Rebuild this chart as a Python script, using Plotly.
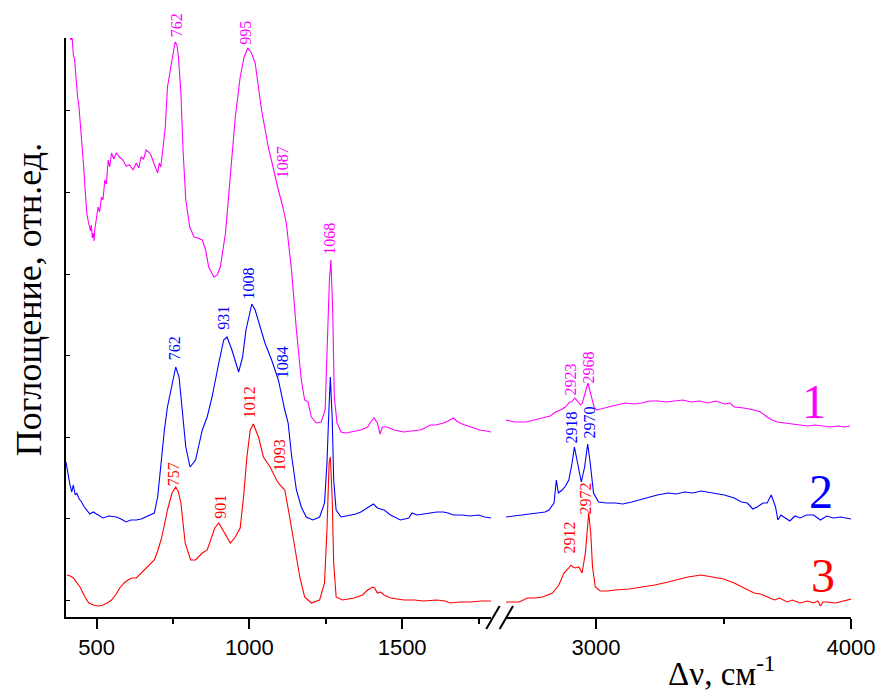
import plotly.graph_objects as go

# ---------------- data (wavenumber, cm^-1 ; absorbance, rel. units) ----------------
wn_1_left = [412, 416, 420, 424, 428, 432, 436, 438, 442, 446, 450, 455, 458, 462, 466, 468, 472, 476, 480, 483,
             486, 489, 492, 494, 498, 505, 510, 516, 521, 527, 532, 538, 543, 549, 556, 565, 575, 586, 597, 608,
             619, 630, 638, 646, 654, 662, 670, 678, 686, 695, 700, 705, 710, 716, 725, 732, 743, 750, 757, 763,
             768, 776, 783, 792, 805, 819, 832, 846, 857, 867, 876, 884, 895, 905, 922, 938, 954, 970, 983, 995,
             1007, 1019, 1040, 1062, 1080, 1095, 1108, 1121, 1138, 1154, 1170, 1176, 1181, 1192, 1203, 1219, 1235,
             1248, 1257, 1262, 1267, 1273, 1278, 1287, 1300, 1316, 1332, 1348, 1365, 1387, 1397, 1408, 1419, 1428,
             1435, 1451, 1473, 1490, 1506, 1530, 1559, 1575, 1592, 1610, 1635, 1650, 1668, 1678, 1689, 1705, 1722,
             1740, 1754, 1775, 1792]
abs_1_left = [5.85, 5.77, 5.80, 5.62, 5.58, 5.42, 5.30, 5.20, 5.12, 4.97, 4.85, 4.64, 4.50, 4.30, 4.12, 4.04, 3.97, 3.90, 3.86, 3.92,
              3.79, 3.84, 3.76, 3.87, 3.95, 4.10, 4.05, 4.20, 4.17, 4.37, 4.33, 4.57, 4.50, 4.64, 4.58, 4.64, 4.60, 4.57, 4.51, 4.52,
              4.47, 4.54, 4.49, 4.60, 4.58, 4.67, 4.65, 4.62, 4.55, 4.47, 4.44, 4.54, 4.50, 4.65, 4.90, 5.30, 5.50, 5.66, 5.75, 5.72,
              5.60, 5.24, 4.67, 4.17, 3.90, 3.80, 3.79, 3.77, 3.67, 3.50, 3.45, 3.40, 3.42, 3.50, 3.84, 4.44, 5.00, 5.40, 5.60, 5.69,
              5.64, 5.54, 5.07, 4.70, 4.45, 4.27, 4.12, 3.94, 3.47, 2.87, 2.37, 2.25, 2.17, 2.15, 2.00, 1.94, 1.95,
              2.07, 2.87, 3.37, 3.57, 3.04, 2.20, 1.94, 1.85, 1.84, 1.85, 1.86, 1.87, 1.90, 1.95, 1.99, 1.94, 1.83,
              1.90, 1.90, 1.87, 1.86, 1.85, 1.86, 1.87, 1.89, 1.92, 1.92, 1.94, 1.96, 1.99, 1.96, 1.94, 1.92, 1.90,
              1.88, 1.87, 1.86, 1.85]
wn_1_right = [2647, 2680, 2725, 2760, 2790, 2820, 2841, 2860, 2880, 2896, 2904, 2916, 2927, 2939, 2946, 2958, 2968, 2977,
              2984, 2993, 3003, 3030, 3049, 3080, 3114, 3150, 3179, 3210, 3243, 3275, 3308, 3340, 3373, 3405, 3438, 3470,
              3503, 3525, 3542, 3580, 3620, 3645, 3671, 3690, 3711, 3740, 3770, 3801, 3830, 3860, 3892, 3920, 3950, 3975, 3996]
abs_1_right = [1.97, 1.95, 1.95, 1.97, 1.99, 2.01, 2.05, 2.07, 2.10, 2.15, 2.15, 2.19, 2.16, 2.12, 2.14, 2.24, 2.34, 2.25,
               2.17, 2.09, 2.07, 2.09, 2.10, 2.12, 2.14, 2.13, 2.14, 2.16, 2.16, 2.15, 2.16, 2.17, 2.15, 2.16, 2.14, 2.16,
               2.13, 2.14, 2.10, 2.09, 2.07, 2.05, 2.00, 1.97, 1.95, 1.94, 1.93, 1.92, 1.91, 1.92, 1.91, 1.90, 1.91, 1.90, 1.91]

wn_2_left = [400, 404, 408, 413, 419, 424, 430, 435, 443, 451, 460, 468, 478, 489, 505, 521, 540, 565, 580, 597,
             612, 630, 646, 662, 676, 689, 700, 711, 722, 732, 743, 752, 759, 770, 781, 792, 806, 824, 835, 846,
             862, 878, 900, 916, 927, 943, 965, 978, 989, 997, 1008, 1019, 1035, 1051, 1073, 1095, 1116, 1127,
             1138, 1154, 1170, 1186, 1208, 1230, 1246, 1254, 1260, 1265, 1271, 1276, 1284, 1300, 1316, 1332, 1348,
             1365, 1392, 1406, 1419, 1441, 1462, 1494, 1522, 1532, 1549, 1570, 1592, 1614, 1635, 1650, 1668, 1695,
             1722, 1750, 1770, 1792]
abs_2_left = [1.55, 1.47, 1.40, 1.32, 1.25, 1.32, 1.22, 1.24, 1.18, 1.15, 1.10, 1.07, 1.03, 1.05, 1.02, 0.99, 1.01, 1.00, 0.98, 0.95,
              0.97, 0.97, 0.98, 1.00, 1.02, 1.04, 1.20, 1.54, 1.87, 2.10, 2.27, 2.42, 2.50, 2.40, 2.04, 1.70, 1.50, 1.57, 1.72, 1.87,
              2.00, 2.20, 2.54, 2.77, 2.80, 2.67, 2.45, 2.60, 2.87, 2.97, 3.13, 3.07, 2.90, 2.74, 2.57, 2.37, 2.07, 1.94,
              1.62, 1.27, 1.10, 1.00, 0.97, 1.00, 1.14, 1.54, 2.04, 2.40, 2.00, 1.37, 1.07, 1.00, 1.01, 1.02, 1.03,
              1.05, 1.10, 1.13, 1.09, 1.07, 1.02, 0.97, 0.99, 1.04, 1.02, 1.03, 1.04, 1.05, 1.05, 1.04, 1.02, 1.02,
              1.01, 1.02, 1.00, 0.99]
wn_2_right = [2647, 2680, 2712, 2745, 2776, 2800, 2815, 2835, 2844, 2852, 2867, 2880, 2893, 2906, 2915, 2926, 2942, 2955,
              2967, 2977, 2990, 3010, 3040, 3075, 3105, 3140, 3170, 3204, 3240, 3282, 3315, 3347, 3380, 3412, 3440, 3464,
              3503, 3542, 3570, 3593, 3615, 3632, 3655, 3671, 3687, 3696, 3704, 3713, 3725, 3736, 3760, 3780, 3801, 3825,
              3853, 3880, 3905, 3931, 3960, 4000]
abs_2_right = [1.00, 1.01, 1.02, 1.03, 1.04, 1.05, 1.07, 1.14, 1.37, 1.24, 1.27, 1.31, 1.37, 1.54, 1.70, 1.57, 1.35, 1.50,
               1.73, 1.54, 1.24, 1.15, 1.14, 1.14, 1.13, 1.15, 1.17, 1.20, 1.22, 1.24, 1.23, 1.25, 1.24, 1.26, 1.25, 1.24,
               1.22, 1.19, 1.15, 1.14, 1.08, 1.10, 1.14, 1.14, 1.22, 1.16, 1.10, 0.97, 1.02, 1.00, 0.96, 1.01, 0.99, 1.02,
               1.02, 0.97, 1.01, 0.99, 1.00, 0.98]

wn_3_left = [403, 414, 424, 435, 446, 462, 475, 489, 505, 521, 535, 549, 562, 576, 590, 603, 615, 630, 646, 662,
             676, 689, 700, 711, 722, 732, 747, 759, 767, 776, 790, 808, 824, 846, 862, 873, 887, 900, 916, 938,
             954, 970, 981, 992, 1003, 1013, 1030, 1046, 1068, 1089, 1100, 1116, 1132, 1149, 1165, 1181, 1203, 1230,
             1246, 1254, 1261, 1265, 1271, 1276, 1284, 1305, 1343, 1370, 1387, 1403, 1410, 1419, 1430, 1441, 1462,
             1506, 1540, 1570, 1614, 1640, 1657, 1690, 1722, 1760, 1792]
abs_3_left = [0.42, 0.41, 0.39, 0.35, 0.30, 0.20, 0.14, 0.12, 0.11, 0.12, 0.14, 0.17, 0.22, 0.29, 0.34, 0.37, 0.39, 0.39, 0.44, 0.49,
              0.53, 0.57, 0.66, 0.77, 0.92, 1.07, 1.24, 1.30, 1.26, 1.14, 0.74, 0.57, 0.57, 0.64, 0.67, 0.77, 0.89, 0.94, 0.85, 0.74,
              0.80, 0.89, 1.20, 1.60, 1.87, 1.93, 1.80, 1.60, 1.50, 1.37, 1.32, 1.27, 1.00, 0.67, 0.40, 0.20, 0.14, 0.17,
              0.34, 0.87, 1.54, 1.60, 1.20, 0.54, 0.20, 0.17, 0.19, 0.22, 0.27, 0.30, 0.29, 0.24, 0.25, 0.22, 0.19,
              0.17, 0.17, 0.16, 0.17, 0.16, 0.14, 0.15, 0.15, 0.16, 0.16]
wn_3_right = [2647, 2698, 2731, 2760, 2790, 2810, 2829, 2854, 2874, 2893, 2901, 2909, 2919, 2932, 2945, 2958, 2965, 2971,
              2979, 2986, 2997, 3016, 3045, 3075, 3130, 3179, 3230, 3282, 3330, 3360, 3412, 3464, 3500, 3542, 3580, 3620,
              3645, 3671, 3700, 3720, 3749, 3770, 3800, 3830, 3853, 3870, 3880, 3890, 3905, 3940, 3970, 4002]
abs_3_right = [0.15, 0.15, 0.19, 0.19, 0.20, 0.22, 0.24, 0.32, 0.44, 0.49, 0.52, 0.50, 0.49, 0.50, 0.44, 0.64, 0.90, 1.04,
               0.84, 0.50, 0.30, 0.26, 0.26, 0.27, 0.28, 0.30, 0.32, 0.35, 0.38, 0.40, 0.42, 0.40, 0.38, 0.34, 0.29, 0.24,
               0.23, 0.20, 0.17, 0.19, 0.15, 0.17, 0.14, 0.16, 0.14, 0.16, 0.11, 0.15, 0.15, 0.14, 0.16, 0.18]

# peak labels: (text, wavenumber position, absorbance position, axis)
peaks_1 = [("762", 761, 5.92, "x"), ("995", 985, 5.84, "x"), ("1087", 1108, 4.55, "x"), ("1068", 1260, 3.78, "x"),
           ("2923", 2896, 2.37, "x2"), ("2968", 2974, 2.50, "x2")]
peaks_2 = [("762", 754, 2.69, "x"), ("931", 913, 2.99, "x"), ("1008", 994, 3.33, "x"), ("1084", 1108, 2.55, "x"),
           ("2918", 2904, 1.89, "x2"), ("2970", 2974, 1.95, "x2")]
peaks_3 = [("757", 751, 1.43, "x"), ("901", 903, 1.10, "x"), ("1012", 1000, 2.15, "x"), ("1093", 1098, 1.62, "x"),
           ("2912", 2892, 0.79, "x2"), ("2972", 2958, 1.19, "x2")]
curve_names = ["1", "2", "3"]
curve_name_pos = [(3854, 2.16), (3881, 1.26), (3889, 0.42)]
colors = ["#FF00FF", "#0000FF", "#FF0000"]

left_ticks = [500, 1000, 1500]
right_ticks = [3000, 4000]
Y_MAX = 5.79

# ---------------- figure ----------------
fig = go.Figure()
series = [(wn_1_left, abs_1_left, wn_1_right, abs_1_right),
          (wn_2_left, abs_2_left, wn_2_right, abs_2_right),
          (wn_3_left, abs_3_left, wn_3_right, abs_3_right)]
for (xl, yl, xr, yr), c in zip(series, colors):
    fig.add_trace(go.Scatter(x=xl, y=yl, mode="lines", line=dict(color=c, width=1.1),
                             xaxis="x", yaxis="y", showlegend=False))
    fig.add_trace(go.Scatter(x=xr, y=yr, mode="lines", line=dict(color=c, width=1.1),
                             xaxis="x2", yaxis="y", showlegend=False))

W, H = 887, 693
PL, PT, PR, PB = 66, 38, 858, 617          # plot area in window pixels
L, T, R, B = PL, PT, W - PR, H - PB
pw, ph = PR - PL, PB - PT


def px(xs):
    return (xs - PL) / pw


def py(ys):
    return (PB - ys) / ph


tickfont = dict(family="Liberation Sans, Arial, sans-serif", size=22, color="black")
axis_common = dict(showgrid=False, zeroline=False, showline=True, linecolor="black", linewidth=2,
                   ticks="outside", ticklen=10, tickwidth=2, tickcolor="black", tickfont=tickfont)

fig.update_layout(
    width=W, height=H, autosize=False,
    margin=dict(l=L, r=R, t=T, b=B, pad=0),
    paper_bgcolor="white", plot_bgcolor="white",
    xaxis=dict(domain=[0, px(495)], range=[400, 1791.5], tickvals=left_ticks,
               minor=dict(dtick=250, tick0=0, ticks="outside", ticklen=5, tickwidth=2, tickcolor="black"),
               anchor="y", **axis_common),
    xaxis2=dict(domain=[px(509), 1], range=[2643, 4000], tickvals=right_ticks,
                minor=dict(dtick=500, tick0=0, ticks="outside", ticklen=5, tickwidth=2, tickcolor="black"),
                anchor="y", **axis_common),
    yaxis=dict(range=[0, Y_MAX], showgrid=False, zeroline=False, showline=True, linecolor="black",
               linewidth=2, ticks="inside", ticklen=4, tickwidth=1, tickcolor="black",
               tickvals=[0.17, 0.99, 1.80, 2.62, 3.43, 4.25, 5.07], showticklabels=False, anchor="x"),
)

serif = "Liberation Serif, Times New Roman, serif"
annotations = []
for peaks, c in zip([peaks_1, peaks_2, peaks_3], colors):
    for txt, xv, yv, ax in peaks:
        annotations.append(dict(text=txt, x=xv, y=yv / Y_MAX, xref=ax, yref="paper", showarrow=False,
                                textangle=-90, xanchor="center", yanchor="middle",
                                font=dict(family=serif, size=16, color=c)))
for name, (xv, yv), c in zip(curve_names, curve_name_pos, colors):
    annotations.append(dict(text=name, x=xv, y=yv, xref="x2", yref="y", showarrow=False,
                            xanchor="center", yanchor="middle", font=dict(family=serif, size=48, color=c)))
annotations.append(dict(text="Поглощение, отн.ед.", x=px(29), y=py(300), xref="paper", yref="paper",
                        showarrow=False, textangle=-90, xanchor="center", yanchor="middle",
                        font=dict(family=serif, size=36, color="black")))
annotations.append(dict(text="Δν, см<sup>-1</sup>", x=px(727), y=py(694), xref="paper", yref="paper",
                        showarrow=False, xanchor="center", yanchor="bottom",
                        font=dict(family=serif, size=33, color="black")))
fig.update_layout(annotations=annotations)

# axis break marks
for x0 in (490, 503.5):
    fig.add_shape(type="line", xref="paper", yref="paper", x0=px(x0), y0=py(629), x1=px(x0 + 13.5), y1=py(606),
                  line=dict(color="black", width=2))

# remove the browser's default body margin so the figure fills the window exactly
fig.write_html("out.html", config={"displayModeBar": False},
               post_script="document.body.style.margin='0px';document.body.style.overflow='hidden';")
